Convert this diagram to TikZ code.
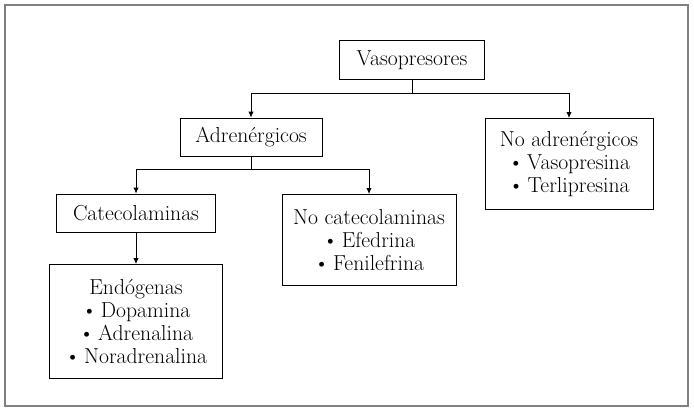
\documentclass[tikz,border=0pt]{standalone}
\usepackage{tikz}
\usetikzlibrary{arrows.meta}

\tikzset{
  caja/.style={draw, line width=0.7pt, align=center, inner sep=2pt,
    font=\fontsize{18.5}{19.8}\selectfont},
  flecha/.style={line width=0.7pt, -{Latex[length=5pt,width=4.5pt]}},
  linea/.style={line width=0.7pt}
}

\begin{document}
\begin{tikzpicture}
        \useasboundingbox (0,0) rectangle (20.82,12.3);
        \draw[gray, line width=0.9pt] (0.15,0.12) rectangle (20.64,12.15);

        % cajas
        \node[caja, minimum width=4.35cm, minimum height=1.17cm] (vaso) at (12.36,10.5) {Vasopresores};
        \node[caja, minimum width=4.26cm, minimum height=1.14cm] (adr) at (7.53,8.19) {Adren\'ergicos};
        \node[caja, minimum width=5.04cm, minimum height=2.73cm, anchor=north] (noadr) at (17.07,8.76)
            {No adren\'ergicos\\ \textbullet\,Vasopresina\\ \textbullet\,Terlipresina};
        \node[caja, minimum width=4.77cm, minimum height=1.14cm] (cat) at (4.08,5.91) {Catecolaminas};
        \node[caja, minimum width=5.22cm, minimum height=2.73cm, anchor=north] (nocat) at (11.07,6.48)
            {No catecolaminas\\ \textbullet\,Efedrina\\ \textbullet\,Fenilefrina};
        \node[caja, minimum width=5.19cm, minimum height=3.42cm, anchor=north] (endo) at (4.08,4.38)
            {End\'ogenas\\ \textbullet\,Dopamina\\ \textbullet\,Adrenalina\\ \textbullet\,Noradrenalina};

        %% uniones
        \coordinate (j1) at (12.36,9.51);
        \coordinate (j2) at (7.53,7.23);
        \draw[linea] (vaso.south) -- (j1);
        \draw[flecha] (j1) -| (adr.north);
        \draw[flecha] (j1) -| (noadr.north);
        \draw[linea] (adr.south) -- (j2);
        \draw[flecha] (j2) -| (cat.north);
        \draw[flecha] (j2) -| (nocat.north);
        \draw[flecha] (cat.south) -- (endo.north);
\end{tikzpicture}
\end{document}
